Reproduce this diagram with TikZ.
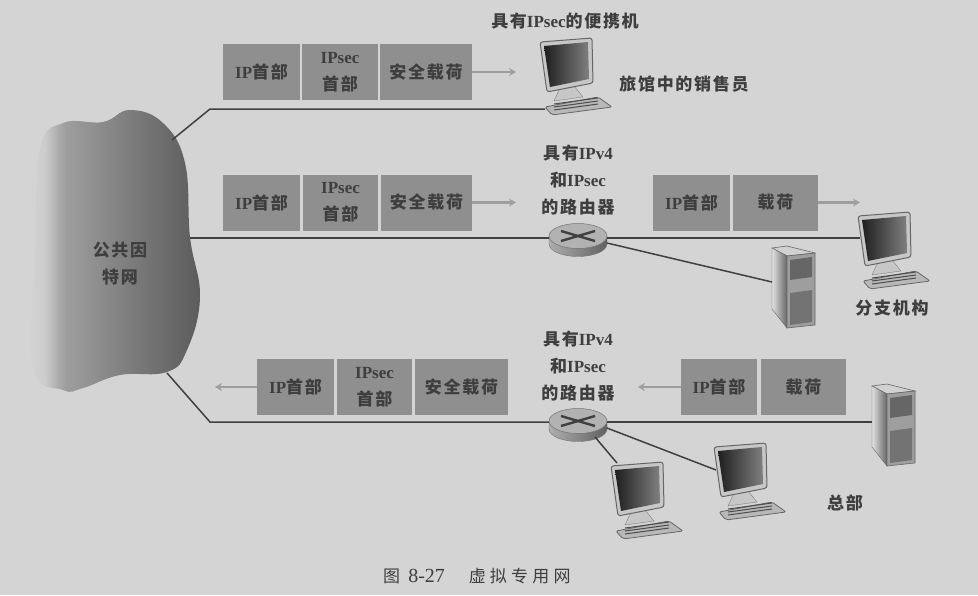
\documentclass[tikz,border=0pt]{standalone}
\usepackage{fontspec}
\usepackage{tikz}
\usetikzlibrary{arrows.meta,shapes.geometric}
\setmainfont{Liberation Serif}
\newfontfamily\cjk[LetterSpace=10]{Noto Sans CJK SC}
\newfontfamily\cjkwide[LetterSpace=25]{Noto Sans CJK SC}
\newcommand{\lat}[1]{{\rmfamily\bfseries #1}}
\definecolor{paper}{HTML}{D4D4D4}
\definecolor{ink}{HTML}{3E3E3E}
\definecolor{pktgray}{HTML}{8F8F8F}
\pgfdeclarehorizontalshading{cloudfade}{100bp}{color(0bp)=(paper); color(25bp)=(paper); color(30bp)=(black!20); color(34bp)=(black!33); color(36bp)=(black!38); color(50bp)=(black!48); color(65bp)=(black!58); color(75bp)=(black!64); color(100bp)=(black!64)}
\tikzset{
    lbl/.style={font=\cjk\bfseries\fontsize{17}{27}\selectfont,text=ink,align=center,inner sep=0pt},
    pktbox/.style={fill=pktgray,minimum height=56pt,inner sep=0pt,lbl},
    wire/.style={draw=black!75,line width=1.5pt},
    flow/.style={draw=black!38,line width=2.6pt,-{Stealth[length=7pt,width=8pt]}},
    routerdisc/.style={ellipse,draw=black!55,line width=0.5pt,fill=black!30,minimum width=58pt,minimum height=25pt,inner sep=0pt},
    pcunit/.pic={
        % keyboard, stand and monitor
        \filldraw[draw=black!60,fill=black!28,line width=0.8pt,rounded corners=2pt] (5,69) -- (58,59) -- (72,69) -- (12,77) -- cycle;
        \foreach \d in {0,3,6} \draw[black!70,line width=1pt] (14,{72-\d}) -- (58,{66-\d});
        \filldraw[draw=black!50,fill=black!22] (14,63) -- (20,50) -- (34,48) -- (43,59) -- cycle;
        \filldraw[draw=black!60,fill=black!22,line width=1pt,rounded corners=2.5pt] (0,4) -- (52,0) -- (53,45) -- (7,54) -- cycle;
        \shade[left color=black!88,right color=black!50] (4,8) -- (48,4) -- (49,41) -- (10,49) -- cycle;
        \coordinate (-kbd) at (5,71);
        \coordinate (-side) at (2,27);
        \coordinate (-top) at (6,1);
    },
    serverunit/.pic={
        \filldraw[draw=black!60,fill=black!18,line width=0.6pt] (0,1) -- (15,-1) -- (43,6) -- (15,9) -- cycle;
        \shade[left color=black!12,right color=black!60,draw=black!60] (0,1) -- (15,9) -- (15,81) -- (0,62) -- cycle;
        \filldraw[draw=black!60,fill=black!38,line width=0.6pt] (15,9) -- (43,6) -- (43,78) -- (15,81) -- cycle;
        \fill[black!60] (18,13) -- (40,10) -- (40,30) -- (18,33) -- cycle;
        \fill[black!55] (18,46) -- (40,43) -- (40,75) -- (18,78) -- cycle;
        \coordinate (-port) at (0,35);
    },
    routerunit/.pic={
        % body under the disc
        \shade[left color=black!32,right color=black!62,draw=black!55] (-29,0) -- (-29,8) arc (180:0:29 and 12.5) -- (29,0) -- cycle;
        \node[routerdisc] (-top) at (0,0) {};
        \draw[black!75,line width=2.4pt] (-17,5) -- (17,-5);
        \draw[black!75,line width=2.4pt] (-17,-5) -- (17,5);
        \coordinate (-low) at (29,7);
        \coordinate (-under) at (17,16);
    },
}
\begin{document}
\begin{tikzpicture}[x=1pt,y=-1pt]
    \fill[paper] (0,0) rectangle (978,595);
    \useasboundingbox (0,0) rectangle (978,595);

    % Draw the cloud
    \path[shading=cloudfade] plot[smooth cycle,tension=0.7] coordinates {(130,110) (103,122) (63,123) (40,150) (35,257) (33,367) (63,390) (83,388) (120,375) (167,372) (187,350) (200,297) (190,237) (185,163) (163,123)};
    \node[lbl] (cloud) at (120,264) {公共因\\特网};

    % Draw the packets
    \node[pktbox,minimum width=77pt] (boxAa) at (261.5,72) {\lat{IP}首部};
    \node[pktbox,minimum width=76pt] (boxAb) at (340,72) {\lat{IPsec}\\首部};
    \node[pktbox,minimum width=92pt] (boxAc) at (426,72) {安全载荷};

    \node[pktbox,minimum width=77pt] (boxBa) at (261.5,202.5) {\lat{IP}首部};
    \node[pktbox,minimum width=75pt] (boxBb) at (340.5,202.5) {\lat{IPsec}\\首部};
    \node[pktbox,minimum width=91pt] (boxBc) at (426.5,202.5) {安全载荷};
    \node[pktbox,minimum width=77pt] (boxBd) at (691.5,202.5) {\lat{IP}首部};
    \node[pktbox,minimum width=85pt] (boxBe) at (775.5,202.5) {载荷};

    \node[pktbox,minimum width=77pt] (boxCa) at (295.5,387) {\lat{IP}首部};
    \node[pktbox,minimum width=75pt] (boxCb) at (374.5,387) {\lat{IPsec}\\首部};
    \node[pktbox,minimum width=93pt] (boxCc) at (461.5,387) {安全载荷};
    \node[pktbox,minimum width=76pt] (boxCd) at (719,387) {\lat{IP}首部};
    \node[pktbox,minimum width=85pt] (boxCe) at (803.5,387) {载荷};

    % Arrows next to the packets
    \coordinate (tipA) at (516,72);
    \coordinate (tipB) at (516,202.5);
    \coordinate (tipBr) at (860,202.5);
    \coordinate (tipC) at (215,387);
    \coordinate (tipCr) at (638,387);
    \draw[flow] (boxAc.east) -- (tipA);
    \draw[flow] (boxBc.east) -- (tipB);
    \draw[flow] (boxBe.east) -- (tipBr);
    \draw[flow] (boxCa.west) -- (tipC);
    \draw[flow] (boxCd.west) -- (tipCr);

    % Hosts and routers
    \pic (pcA) at (540,38) {pcunit};
    \pic (pcB) at (858,212) {pcunit};
    \pic (pcC) at (714,443) {pcunit};
    \pic (pcD) at (611,462) {pcunit};
    \pic (serverB) at (772,247) {serverunit};
    \pic (serverC) at (872,385) {serverunit};
    \pic (routerB) at (578,236) {routerunit};
    \pic (routerC) at (578,421) {routerunit};

    % Links, the free ends sit on the cloud edge
    \coordinate (cloudA) at (172,140);
    \coordinate (bendA) at (210,109);
    \coordinate (cloudB) at (190,238);
    \coordinate (cloudC) at (167,373);
    \coordinate (bendC) at (210,422);
    \draw[wire] (cloudA) -- (bendA) -- (bendA -| pcA-kbd);
    \draw[wire] (cloudB) -- (routerB-top.west |- cloudB);
    \draw[wire] (routerB-top.east |- cloudB) -- (pcB-side |- cloudB);
    \draw[wire] (routerB-low) -- (serverB-port);
    \draw[wire] (cloudC) -- (bendC) -- (routerC-top.west |- bendC);
    \draw[wire] (routerC-top.east |- bendC) -- (serverC-port |- bendC);
    \draw[wire] (routerC-low) -- (pcC-side);
    \draw[wire] (routerC-under) -- (pcD-top);

    % Label the devices
    \node[lbl] (lblLaptop) at (565,21) {具有\lat{IPsec}的便携机};
    \node[lbl] (lblSales) at (684,84) {旅馆中的销售员};
    \node[lbl] (lblRouterB) at (578,180) {具有\lat{IPv4}\\和\lat{IPsec}\\的路由器};
    \node[lbl] (lblRouterC) at (578,366) {具有\lat{IPv4}\\和\lat{IPsec}\\的路由器};
    \node[lbl] (lblBranch) at (892,308) {分支机构};
    \node[lbl] (lblHq) at (845,503) {总部};
    \node[lbl,font=\cjkwide\fontsize{17}{27}\selectfont] (caption) at (477,576) {图 {\rmfamily\fontsize{20}{27}\selectfont 8-27}\hspace{1.4em}虚拟专用网};
\end{tikzpicture}
\end{document}
